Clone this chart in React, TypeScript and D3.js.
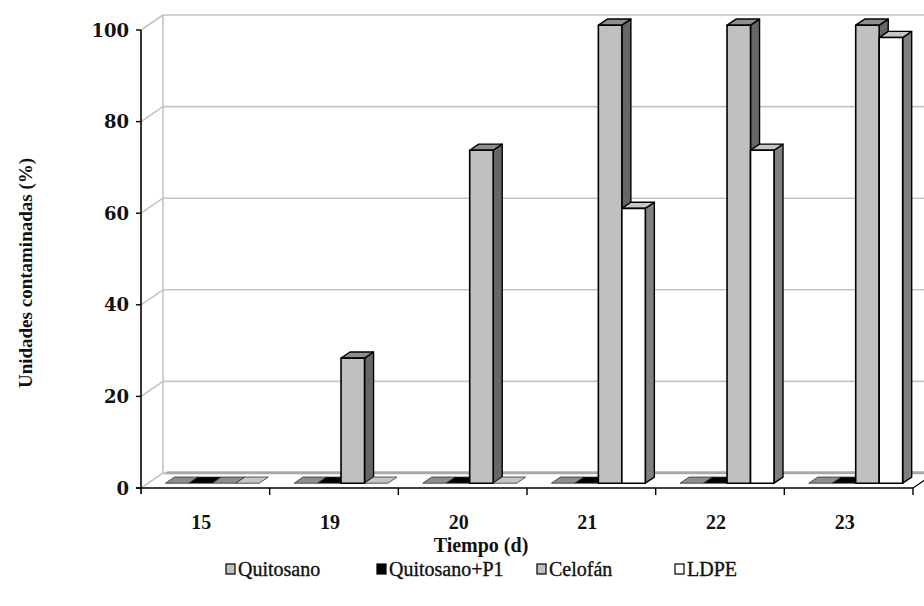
import React from "react";
import * as d3 from "d3";

const categories = ["15", "19", "20", "21", "22", "23"];
const seriesNames = ["Quitosano", "Quitosano+P1", "Celofán", "LDPE"];
const quitosano = [0, 0, 0, 0, 0, 0];
const quitosanoP1 = [0, 0, 0, 0, 0, 0];
const celofan = [0, 27.3, 72.7, 100, 100, 100];
const ldpe = [0, 0, 0, 60, 72.7, 97.3];
const yTicks = [0, 20, 40, 60, 80, 100];

const seriesValues = [quitosano, quitosanoP1, celofan, ldpe];
const frontColors = ["#c0c0c0", "#000000", "#c0c0c0", "#ffffff"];
const topColors = ["#8e8e8e", "#000000", "#8e8e8e", "#c6c6c6"];
const sideColors = ["#6a6a6a", "#000000", "#666666", "#808080"];
const legendFill = ["#c0c0c0", "#000000", "#c0c0c0", "#ffffff"];

const W = 924;
const H = 606;
const X0 = 141;
const X1 = 913;
const DX = 22;
const DY = 15;
const D0 = 0.32;
const D1 = 0.73;

const SERIF = "'Liberation Serif', 'DejaVu Serif', serif";
const DJV = "'DejaVu Serif', serif";

export default function App() {
  const x = d3.scaleBand().domain(categories).range([X0, X1]).padding(0);
  const inner = d3
    .scaleBand()
    .domain(seriesNames)
    .range([0, x.bandwidth()])
    .paddingInner(0)
    .paddingOuter(0.74);
  const y = d3.scaleLinear().domain([0, 100]).range([488, 30]);

  const P = (px: number, py: number, d: number) =>
    `${px + d * DX},${py - d * DY}`;

  const bars: React.ReactNode[] = [];
  categories.forEach((c, ci) => {
    seriesNames.forEach((s, si) => {
      const v = seriesValues[si][ci];
      const xl = (x(c) as number) + (inner(s) as number);
      const xr = xl + inner.bandwidth();
      const yb = y(0);
      const yt = y(v);
      const key = `${ci}-${si}`;
      const sw = si === 1 ? 1 : 1.4;
      bars.push(
        <g key={key}>
          {v > 0 && (
            <polygon
              points={[P(xr, yb, D0), P(xr, yb, D1), P(xr, yt, D1), P(xr, yt, D0)].join(" ")}
              fill={sideColors[si]}
              stroke="#000"
              strokeWidth={sw}
              strokeLinejoin="round"
            />
          )}
          <polygon
            points={[P(xl, yt, D0), P(xr, yt, D0), P(xr, yt, D1), P(xl, yt, D1)].join(" ")}
            fill={topColors[si]}
            stroke={v > 0 ? "#000" : "#333"}
            strokeWidth={v > 0 ? sw : 0.8}
            strokeLinejoin="round"
          />
          {v > 0 && (
            <polygon
              points={[P(xl, yb, D0), P(xr, yb, D0), P(xr, yt, D0), P(xl, yt, D0)].join(" ")}
              fill={frontColors[si]}
              stroke="#000"
              strokeWidth={1.6}
              strokeLinejoin="round"
            />
          )}
        </g>
      );
    });
  });

  const legendX = [226, 377, 537, 675];

  return (
    <svg
      width={W}
      height={H}
      style={{ position: "absolute", left: 0, top: 0, background: "#fff" }}
    >
      {yTicks.map((t) => (
        <g key={"g" + t}>
          <line x1={X0} y1={y(t)} x2={X0 + DX} y2={y(t) - DY} stroke="#c4c4c4" strokeWidth={1.6} />
          <line x1={X0 + DX} y1={y(t) - DY} x2={W} y2={y(t) - DY} stroke="#c4c4c4" strokeWidth={1.6} />
        </g>
      ))}
      <line x1={X0 + DX} y1={y(100) - DY} x2={X0 + DX} y2={y(0) - DY} stroke="#c4c4c4" strokeWidth={1.6} />
      <polygon
        points={[P(X0, y(0), 0.92), P(W, y(0), 0.92), P(W, y(0), 1.12), P(X0, y(0), 1.12)].join(" ")}
        fill="#a8a8a8"
        transform="translate(2,0)"
      />
      <line x1={X1} y1={y(0)} x2={X1 + DX} y2={y(0) - DY} stroke="#000" strokeWidth={1.2} />
      {bars}
      <line x1={X0} y1={y(100)} x2={X0} y2={y(0) + 6} stroke="#000" strokeWidth={1.6} />
      {yTicks.map((t) => (
        <g key={"yt" + t}>
          <line x1={X0 - 5} y1={y(t)} x2={X0} y2={y(t)} stroke="#000" strokeWidth={1.4} />
          <text
            x={X0 - 12}
            y={y(t)}
            dy="0.37em"
            textAnchor="end"
            style={{ fontFamily: DJV, fontWeight: "bold", fontSize: 18 }}
            fill="#111"
          >
            {t}
          </text>
        </g>
      ))}
      <line x1={X0 - 5} y1={y(0)} x2={X1} y2={y(0)} stroke="#000" strokeWidth={1.6} />
      {categories.map((c) => (
        <line
          key={"xt" + c}
          x1={(x(c) as number) + x.bandwidth()}
          y1={y(0)}
          x2={(x(c) as number) + x.bandwidth()}
          y2={y(0) + 7}
          stroke="#000"
          strokeWidth={1.4}
        />
      ))}
      {categories.map((c) => (
        <text
          key={"xl" + c}
          x={(x(c) as number) + x.bandwidth() / 2 - 4}
          y={529}
          textAnchor="middle"
          style={{ fontFamily: SERIF, fontWeight: "bold", fontSize: 20 }}
          fill="#111"
        >
          {c}
        </text>
      ))}
      <text
        x={481}
        y={552}
        textAnchor="middle"
        style={{ fontFamily: SERIF, fontWeight: "bold", fontSize: 20 }}
        fill="#111"
      >
        Tiempo (d)
      </text>
      <text
        transform="translate(32,273) rotate(-90)"
        textAnchor="middle"
        style={{ fontFamily: SERIF, fontWeight: "bold", fontSize: 19 }}
        fill="#111"
      >
        Unidades contaminadas (%)
      </text>
      {seriesNames.map((s, i) => (
        <g key={"lg" + s}>
          <rect x={legendX[i]} y={564} width={9} height={10} fill={legendFill[i]} stroke="#000" strokeWidth={1.2} />
          <text
            x={legendX[i] + 12}
            y={576}
            style={{ fontFamily: SERIF, fontWeight: "normal", fontSize: 20 }}
            fill="#111"
            stroke="#111"
            strokeWidth={0.35}
          >
            {s}
          </text>
        </g>
      ))}
    </svg>
  );
}
